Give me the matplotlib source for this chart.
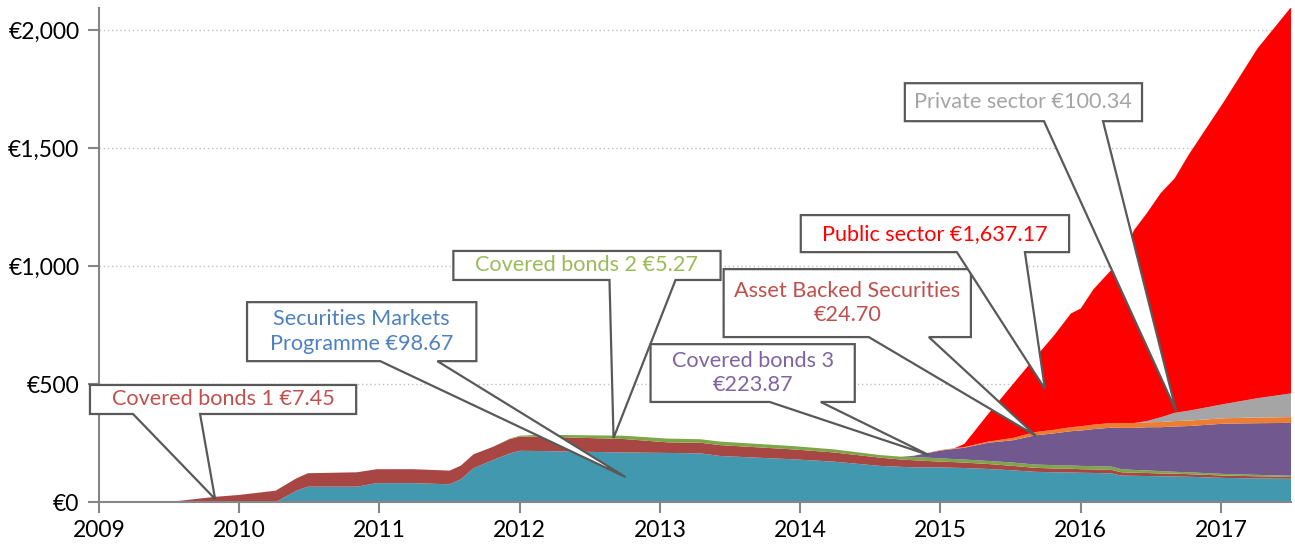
import numpy as np
import matplotlib.pyplot as plt
from matplotlib.patches import Polygon
from matplotlib.ticker import FuncFormatter

plt.rcParams['font.family'] = ['Lato', 'DejaVu Sans']

# decimal years
t = [2009.00, 2009.50, 2009.83, 2010.00, 2010.26, 2010.41, 2010.49, 2010.84, 2010.98,
     2011.24, 2011.50, 2011.58, 2011.67, 2011.81, 2011.93, 2012.00, 2012.15, 2012.74,
     2013.05, 2013.29, 2013.43, 2013.95, 2014.24, 2014.57, 2014.72, 2014.81, 2015.00,
     2015.10, 2015.17, 2015.34, 2015.52, 2015.67, 2015.81, 2015.93, 2016.00, 2016.09,
     2016.22, 2016.29, 2016.38, 2016.47, 2016.57, 2016.67, 2016.77, 2017.02, 2017.26,
     2017.50]

# holdings, EUR bn
smp = [0, 0, 0, 0, 0, 48, 65, 65, 80,
       80, 75, 96, 143, 178, 206, 217, 216, 210,
       208, 206, 195, 181, 171, 153, 149, 147, 147,
       145, 144, 140, 134, 128, 126, 125, 124, 123,
       121, 112, 111, 110, 109, 108, 107, 102, 100,
       98.67]
cb1 = [0, 0, 22, 30, 48, 53, 57, 61, 59,
       59, 58, 58, 59, 56, 61, 60, 61, 57,
       45, 45, 46, 42, 39, 35, 31, 30, 24,
       24, 23, 21, 19, 17, 16, 16, 15, 15,
       15, 14, 13, 13, 12, 12, 11, 10, 9,
       7.45]
cb2 = [0, 0, 0, 0, 0, 0, 0, 0, 0,
       0, 0, 0, 0, 0, 2, 4, 8, 14,
       16, 15, 15, 14, 13, 11, 12, 14, 14,
       13, 13, 13, 14, 14, 14, 14, 14, 14,
       14, 13, 12, 11, 10, 8, 8, 7, 6,
       5.27]
cb3 = [0, 0, 0, 0, 0, 0, 0, 0, 0,
       0, 0, 0, 0, 0, 0, 0, 0, 0,
       0, 0, 0, 0, 0, 0, 0, 5, 33,
       43, 50, 77, 95, 123, 135, 145, 150, 157,
       165, 175, 178, 183, 186, 192, 196, 213, 219,
       223.87]
abs_ = [0, 0, 0, 0, 0, 0, 0, 0, 0,
        0, 0, 0, 0, 0, 0, 0, 0, 0,
        0, 0, 0, 0, 0, 0, 0, 0, 2,
        3, 3, 5, 10, 14, 15, 17, 18, 19,
        20, 21, 21, 21, 22, 23, 23, 23, 24,
        24.70]
private = [0, 0, 0, 0, 0, 0, 0, 0, 0,
           0, 0, 0, 0, 0, 0, 0, 0, 0,
           0, 0, 0, 0, 0, 0, 0, 0, 0,
           0, 0, 0, 0, 0, 0, 0, 0, 0,
           0, 0, 0, 5, 20, 35, 42, 60, 82,
           100.34]
public = [0, 0, 0, 0, 0, 0, 0, 0, 0,
          0, 0, 0, 0, 0, 0, 0, 0, 0,
          0, 0, 0, 0, 0, 0, 0, 0, 0,
          0, 13, 117, 230, 313, 400, 482, 499, 573,
          650, 700, 817, 880, 950, 994, 1085, 1281, 1482,
          1637.17]

colors = ['#4198AF', '#A84643', '#7DA647', '#71588F', '#ED7D31', '#A5A5A5', '#FF0000']

# callouts: text, colour, box (x0, x1, y_bottom, y_top), wedge base x's, tip (x, y)
callouts = [
    ('Covered bonds 1 €7.45', '#C0504D', (2008.936, 2010.834, 373, 496), (2009.243, 2009.721), (2009.828, 13)),
    ('Securities Markets\nProgramme €98.67', '#4F81BD', (2010.056, 2011.691, 597, 847), (2011.006, 2011.413), (2012.754, 106)),
    ('Covered bonds 2 €5.27', '#9BBB59', (2011.527, 2013.432, 941, 1064), (2012.640, 2013.111), (2012.669, 271)),
    ('Covered bonds 3\n€223.87', '#8064A2', (2012.933, 2014.389, 424, 669), (2013.782, 2014.146), (2014.917, 199)),
    ('Asset Backed Securities\n€24.70', '#C0504D', (2013.454, 2015.217, 699, 987), (2014.489, 2014.917), (2015.681, 280)),
    ('Public sector €1,637.17', '#FF0000', (2014.004, 2015.917, 1059, 1216), (2015.117, 2015.602), (2015.745, 479)),
    ('Private sector €100.34', '#A5A5A5', (2014.746, 2016.437, 1614, 1775), (2015.738, 2016.159), (2016.680, 386)),
]

fig = plt.figure(figsize=(12.95, 5.44), dpi=100)
ax = fig.add_axes([0.0764, 0.0772, 0.9206, 0.9078])

ax.stackplot(t, smp, cb1, cb2, cb3, abs_, private, public, colors=colors, linewidth=0, zorder=2)

ax.set_xlim(2009, 2017.5)
ax.set_ylim(0, 2093)
ax.set_xticks(range(2009, 2018))
ax.set_yticks([0, 500, 1000, 1500, 2000])
ax.yaxis.set_major_formatter(FuncFormatter(lambda v, p: '€{:,.0f}'.format(v)))
ax.grid(axis='y', color='#BFBFBF', linestyle=(0, (1, 2)), linewidth=1, zorder=0)
ax.set_axisbelow(True)

for s in ['top', 'right']:
    ax.spines[s].set_visible(False)
for s in ['left', 'bottom']:
    ax.spines[s].set_color('#868686')
    ax.spines[s].set_linewidth(1.5)
ax.tick_params(axis='both', colors='#868686', width=1.5, length=8, labelsize=16.5, labelcolor='black')
ax.tick_params(axis='x', pad=5)
ax.tick_params(axis='y', pad=6)

for text, col, box, base, tip in callouts:
    x0, x1, yb, yt = box
    pts = [(x0, yt), (x1, yt), (x1, yb), (base[1], yb), tip, (base[0], yb), (x0, yb)]
    ax.add_patch(Polygon(pts, closed=True, facecolor='white', edgecolor='#595959',
                         linewidth=1.6, zorder=5, clip_on=False))
    ax.text((x0 + x1) / 2, (yb + yt) / 2, text, color=col, fontsize=15.6, ha='center', va='center',
            linespacing=1.3, zorder=6, clip_on=False)

fig.savefig('out.png', dpi=100)
